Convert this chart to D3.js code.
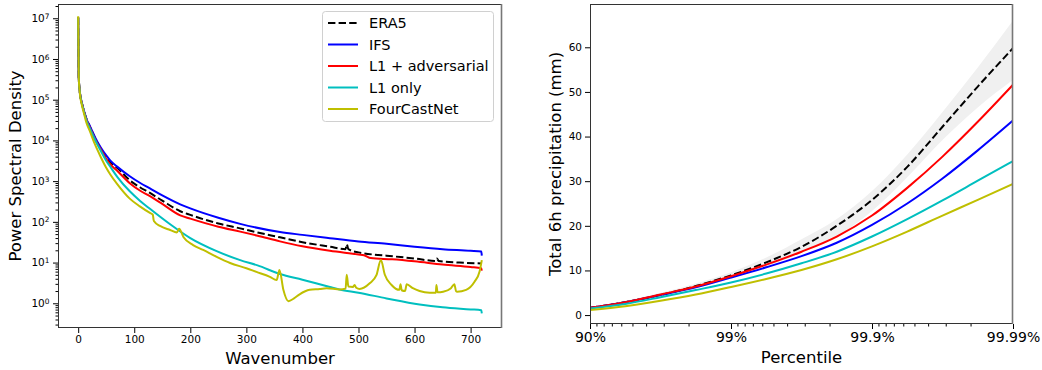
<!DOCTYPE html>
<html>
<head>
<meta charset="utf-8">
<script src="https://cdn.jsdelivr.net/npm/d3@7"></script>
<style>
  body { margin: 0; background: #fff; }
  text { font-family: "DejaVu Sans", sans-serif; fill: #000; }
</style>
</head>
<body>
<svg id="chart" width="1042" height="370"></svg>
<script>
// ---- left panel: power spectral density (log10 values) ----
const era5K = [0,1,3,6,10,15,21,30,40,50,57,70,92,110,128,150,182,200,250,289,320,360,400,449,477,479,482,500,550,600,638,640,643,680,719];
const era5Log = [7.02,5.55,5.18,4.95,4.74,4.52,4.33,4.06,3.8,3.6,3.47,3.32,3.02,2.85,2.71,2.52,2.26,2.17,1.96,1.84,1.74,1.62,1.5,1.39,1.33,1.45,1.33,1.25,1.17,1.1,1.04,1.1,1.04,1.0,0.98];

const ifsK = [0,1,3,6,10,15,21,30,40,50,57,70,92,110,128,150,182,200,250,289,360,400,449,500,550,600,650,700,719,720];
const ifsLog = [7.02,5.55,5.18,4.95,4.74,4.52,4.35,4.08,3.83,3.63,3.51,3.35,3.12,2.96,2.82,2.65,2.43,2.33,2.1,1.95,1.75,1.68,1.6,1.52,1.46,1.39,1.33,1.29,1.27,1.17];

const advK = [0,1,3,6,10,15,21,30,40,50,57,70,92,110,128,150,182,200,250,289,320,360,400,449,500,510,522,560,600,650,700,719,720];
const advLog = [7.02,5.55,5.18,4.95,4.73,4.5,4.31,4.03,3.78,3.55,3.42,3.25,2.95,2.77,2.63,2.44,2.16,2.08,1.88,1.76,1.66,1.52,1.4,1.29,1.2,1.18,1.11,1.08,1.03,0.95,0.89,0.86,0.8];

const l1K = [0,1,3,6,10,15,21,30,40,50,57,70,92,110,128,164,200,247,289,320,360,400,449,466,500,550,609,650,700,719,720];
const l1Log = [7.02,5.55,5.18,4.94,4.72,4.48,4.29,4.02,3.75,3.5,3.36,3.1,2.75,2.52,2.32,1.94,1.6,1.28,1.06,0.93,0.72,0.58,0.4,0.34,0.26,0.12,-0.03,-0.1,-0.15,-0.17,-0.25];

const fcnK = [0,1,3,6,10,15,21,30,40,50,57,70,92,110,128,133,135,146,164,176,180,188,205,223,247,271,300,318,342,354,359,366,375,385,395,413,431,443,467,477,479,482,490,493,496,502,520,532,540,547,559,573,575,577,583,586,597,609,627,638,639,641,651,665,671,674,676,692,707,716,720];
const fcnLog = [7.05,5.55,5.15,4.9,4.68,4.42,4.22,3.9,3.6,3.33,3.17,2.92,2.57,2.38,2.22,2.18,2.02,1.9,1.8,1.74,1.83,1.62,1.43,1.31,1.14,0.99,0.86,0.77,0.65,0.57,0.82,0.33,0.05,0.12,0.22,0.33,0.35,0.37,0.34,0.36,0.7,0.41,0.4,0.45,0.38,0.35,0.49,0.69,1.06,0.7,0.45,0.33,0.47,0.32,0.3,0.47,0.37,0.3,0.26,0.26,0.45,0.27,0.285,0.37,0.47,0.3,0.285,0.33,0.53,0.78,1.06];

const wavenumberTicks = [0,100,200,300,400,500,600,700];
const psdExponents = [0,1,2,3,4,5,6,7];

// ---- right panel: precipitation percentiles ----
const percentiles = [90, 94.377, 96.838, 98.222, 99, 99.4377, 99.6838, 99.8222, 99.9, 99.94377, 99.96838, 99.98222, 99.99];
const era5Precip = [1.6,2.9,4.5,6.5,8.9,11.8,15.3,20.0,25.8,33.2,42.2,51.2,59.8];
const ifsPrecip  = [1.65,2.9,4.5,6.2,8.4,10.7,13.2,16.2,20.2,25.0,30.6,36.9,43.6];
const advPrecip  = [1.65,2.9,4.6,6.4,8.7,11.3,14.2,17.6,22.3,28.5,35.5,43.3,51.6];
const l1Precip   = [1.45,2.5,4.0,5.6,7.3,9.3,11.6,14.2,17.6,21.5,25.7,30.1,34.5];
const fcnPrecip  = [1.15,2.0,3.2,4.6,6.3,8.1,10.1,12.5,15.4,18.7,22.3,25.8,29.4];
const era5Low    = [1.45,2.6,4.1,6.0,8.2,10.9,14.0,17.6,23.3,30.9,39.2,46.5,52.7];
const era5High   = [1.8,3.2,5.0,7.1,9.6,12.9,17.0,21.5,27.8,36.0,45.5,55.5,66];

const percentileTicks = [90, 99, 99.9, 99.99];
const percentileLabels = ["90%", "99%", "99.9%", "99.99%"];
const precipTicks = [0,10,20,30,40,50,60];

const seriesNames = ["ERA5", "IFS", "L1 + adversarial", "L1 only", "FourCastNet"];
const seriesColors = ["#000000", "#0000ff", "#ff0000", "#00bfbf", "#bfbf00"];

const svg = d3.select("#chart");
const lw = 2;
const dash = "7.4,3.2";

// ================= left panel =================
const L = { x0: 58, x1: 502, y0: 4, y1: 328 };
const xL = d3.scaleLinear().domain([-36, 756]).range([L.x0, L.x1]);
const yL = d3.scaleLog().domain([Math.pow(10, -0.607), Math.pow(10, 7.35)]).range([L.y1, L.y0]);

svg.append("clipPath").attr("id", "clipL")
  .append("rect").attr("x", L.x0).attr("y", L.y0).attr("width", L.x1 - L.x0).attr("height", L.y1 - L.y0);

const gL = svg.append("g");

const leftSeries = [
  { k: era5K, v: era5Log },
  { k: ifsK, v: ifsLog },
  { k: advK, v: advLog },
  { k: l1K, v: l1Log },
  { k: fcnK, v: fcnLog }
];

const lineL = d3.line()
  .x(d => xL(d[0]))
  .y(d => yL(Math.pow(10, d[1])))
  .curve(d3.curveMonotoneX);

const linesL = gL.append("g").attr("clip-path", "url(#clipL)");
leftSeries.forEach((s, i) => {
  const pts = s.k.map((k, j) => [k, s.v[j]]);
  linesL.append("path")
    .attr("d", lineL(pts))
    .attr("fill", "none")
    .attr("stroke", seriesColors[i])
    .attr("stroke-width", lw)
    .attr("stroke-linejoin", "round")
    .attr("stroke-dasharray", i === 0 ? dash : null);
});

// x axis
const axXL = gL.append("g").attr("transform", `translate(0,${L.y1})`)
  .call(d3.axisBottom(xL).tickValues(wavenumberTicks).tickSize(5).tickPadding(3).tickSizeOuter(0));
axXL.select(".domain").remove();
axXL.selectAll("text").style("font-size", "10.5px");

// y axis, major ticks with 10^n labels
const axYL = gL.append("g").attr("transform", `translate(${L.x0},0)`)
  .call(d3.axisLeft(yL).tickValues(psdExponents.map(e => Math.pow(10, e))).tickSize(5).tickPadding(3.5).tickSizeOuter(0).tickFormat(""));
axYL.select(".domain").remove();
axYL.selectAll(".tick text").each(function(d) {
  const t = d3.select(this).style("font-size", "10.5px");
  t.text(null);
  t.append("tspan").text("10");
  t.append("tspan").attr("dy", "-0.45em").style("font-size", "7.4px").text(Math.round(Math.log10(d)));
});

// minor log ticks
const minorL = [];
for (let e = -1; e <= 7; e++) {
  for (let m = 2; m <= 9; m++) {
    const v = m * Math.pow(10, e);
    if (v >= yL.domain()[0] && v <= yL.domain()[1]) minorL.push(v);
  }
}
const axYLm = gL.append("g").attr("transform", `translate(${L.x0},0)`)
  .call(d3.axisLeft(yL).tickValues(minorL).tickSize(2.5).tickSizeOuter(0).tickFormat(""));
axYLm.select(".domain").remove();

// frame
gL.append("rect").attr("x", L.x0 + 0.5).attr("y", L.y0 + 0.5)
  .attr("width", L.x1 - L.x0 - 1).attr("height", L.y1 - L.y0 - 1)
  .attr("fill", "none").attr("stroke", "#333").attr("stroke-width", 1);
gL.append("line").attr("x1", L.x1 - 0.5).attr("x2", L.x1 - 0.5).attr("y1", L.y0).attr("y2", L.y1)
  .attr("stroke", "#777").attr("stroke-width", 1.6);

// labels
gL.append("text").attr("x", (L.x0 + L.x1) / 2).attr("y", 364)
  .attr("text-anchor", "middle").style("font-size", "16.5px").text("Wavenumber");
gL.append("text").attr("transform", `translate(21,${(L.y0 + L.y1) / 2}) rotate(-90)`)
  .attr("text-anchor", "middle").style("font-size", "16.5px").text("Power Spectral Density");

// legend
const leg = gL.append("g");
leg.append("rect").attr("x", 322.5).attr("y", 11.5).attr("width", 171).attr("height", 110)
  .attr("rx", 3).attr("fill", "#fff").attr("fill-opacity", 0.8)
  .attr("stroke", "#d0d0d0").attr("stroke-width", 1);
seriesNames.forEach((name, i) => {
  const cy = 23 + i * 21.5;
  leg.append("line").attr("x1", 328).attr("x2", 358).attr("y1", cy).attr("y2", cy)
    .attr("stroke", seriesColors[i]).attr("stroke-width", lw)
    .attr("stroke-dasharray", i === 0 ? dash : null);
  leg.append("text").attr("x", 369).attr("y", cy + 5.2).style("font-size", "14.5px").text(name);
});

// ================= right panel =================
const R = { x0: 590, x1: 1013, y0: 4, y1: 324 };
const toExc = p => -Math.log10(1 - p / 100);
const xR = d3.scaleLinear().domain([1, 4]).range([R.x0, R.x1]);
const yR = d3.scaleLinear().domain([-2, 69.7]).range([R.y1, R.y0]);

svg.append("clipPath").attr("id", "clipR")
  .append("rect").attr("x", R.x0).attr("y", R.y0).attr("width", R.x1 - R.x0).attr("height", R.y1 - R.y0);

const gR = svg.append("g");
const plotR = gR.append("g").attr("clip-path", "url(#clipR)");

const bandData = percentiles.map((p, i) => ({ p, lo: era5Low[i], hi: era5High[i] }));
plotR.append("path")
  .attr("d", d3.area()
    .x(d => xR(toExc(d.p)))
    .y0(d => yR(d.lo))
    .y1(d => yR(d.hi))
    .curve(d3.curveMonotoneX)(bandData))
  .attr("fill", "#f0f0f0");

const rightSeries = [era5Precip, ifsPrecip, advPrecip, l1Precip, fcnPrecip];
const lineR = d3.line()
  .x(d => xR(toExc(d[0])))
  .y(d => yR(d[1]))
  .curve(d3.curveMonotoneX);

rightSeries.forEach((vals, i) => {
  const pts = percentiles.map((p, j) => [p, vals[j]]);
  plotR.append("path")
    .attr("d", lineR(pts))
    .attr("fill", "none")
    .attr("stroke", seriesColors[i])
    .attr("stroke-width", lw)
    .attr("stroke-dasharray", i === 0 ? dash : null);
});

// x axis (percentile, logit-like)
const axXR = gR.append("g").attr("transform", `translate(0,${R.y1})`)
  .call(d3.axisBottom(xR).tickValues(percentileTicks.map(toExc)).tickSize(5).tickPadding(3).tickSizeOuter(0)
    .tickFormat((d, i) => percentileLabels[i]));
axXR.select(".domain").remove();
axXR.selectAll("text").style("font-size", "14px");

const minorR = [];
[100, 1000, 10000].forEach(den => {
  for (let m = 2; m <= 9; m++) minorR.push(-Math.log10(m / den));
});
const axXRm = gR.append("g").attr("transform", `translate(0,${R.y1})`)
  .call(d3.axisBottom(xR).tickValues(minorR).tickSize(2.5).tickSizeOuter(0).tickFormat(""));
axXRm.select(".domain").remove();

// y axis
const axYR = gR.append("g").attr("transform", `translate(${R.x0},0)`)
  .call(d3.axisLeft(yR).tickValues(precipTicks).tickSize(5).tickPadding(3).tickSizeOuter(0));
axYR.select(".domain").remove();
axYR.selectAll("text").style("font-size", "10.5px");

// frame
gR.append("rect").attr("x", R.x0 + 0.5).attr("y", R.y0 + 0.5)
  .attr("width", R.x1 - R.x0 - 1).attr("height", R.y1 - R.y0 - 1)
  .attr("fill", "none").attr("stroke", "#333").attr("stroke-width", 1);
gR.append("line").attr("x1", R.x1 - 0.5).attr("x2", R.x1 - 0.5).attr("y1", R.y0).attr("y2", R.y1)
  .attr("stroke", "#777").attr("stroke-width", 1.6);

// labels
gR.append("text").attr("x", (R.x0 + R.x1) / 2).attr("y", 363)
  .attr("text-anchor", "middle").style("font-size", "16.5px").text("Percentile");
gR.append("text").attr("transform", `translate(561,${(R.y0 + R.y1) / 2}) rotate(-90)`)
  .attr("text-anchor", "middle").style("font-size", "16.5px").text("Total 6h precipitation (mm)");
</script>
</body>
</html>
